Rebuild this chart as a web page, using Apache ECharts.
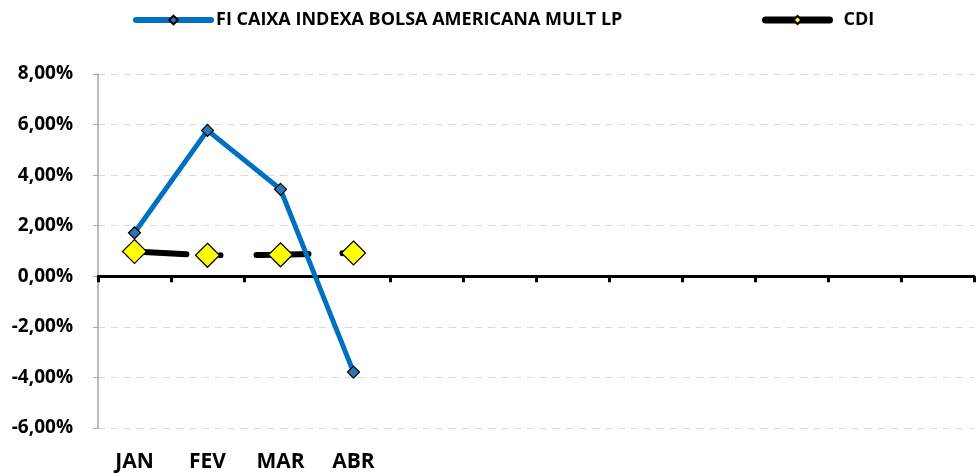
<!DOCTYPE html>
<html>
<head>
<meta charset="utf-8">
<script src="https://cdn.jsdelivr.net/npm/echarts@6/dist/echarts.min.js"></script>
<style>
  html, body { margin: 0; padding: 0; background: #fff; }
  #chart { width: 977px; height: 473px; }
</style>
</head>
<body>
<div id="chart"></div>
<script>
// meses (so os 4 primeiros tem rotulo)
var meses = ['JAN', 'FEV', 'MAR', 'ABR', '', '', '', '', '', '', '', ''];
var fundo = [1.72, 5.77, 3.44, -3.79];
var cdi = [0.98, 0.83, 0.85, 0.92];
var nomeFundo = 'FI CAIXA INDEXA BOLSA AMERICANA MULT LP';
var nomeCdi = 'CDI';

var fonte = '"Open Sans", sans-serif';

var chart = echarts.init(document.getElementById('chart'));

var option = {
    backgroundColor: '#fff',
    animation: false,
    legend: [{
        left: 133,
        top: 11,
        padding: 0,
        itemWidth: 75,
        itemHeight: 11,
        data: [{
            name: nomeFundo,
            lineStyle: { width: 6, cap: 'round' }
        }],
        textStyle: { fontFamily: fonte, fontWeight: 'bold', fontSize: 18, color: '#000' }
    }, {
        left: 762,
        top: 11,
        padding: 0,
        itemWidth: 64,
        itemHeight: 10,
        data: [{
            name: nomeCdi,
            lineStyle: { type: 'solid', width: 7, cap: 'round' }
        }],
        textStyle: { fontFamily: fonte, fontWeight: 'bold', fontSize: 18, color: '#000', padding: [0, 0, 0, 9] }
    }],
    grid: { left: 98, right: 3, top: 74, bottom: 44, containLabel: false },
    xAxis: [{
        type: 'category',
        data: meses,
        boundaryGap: true,
        axisLine: { onZero: true, lineStyle: { color: '#000', width: 3 } },
        axisTick: { show: true, inside: false, length: 6, lineStyle: { color: '#000', width: 3 } },
        axisLabel: { show: false },
        splitLine: { show: false }
    }, {
        type: 'category',
        data: meses,
        position: 'bottom',
        boundaryGap: true,
        axisLine: { show: false },
        axisTick: { show: false },
        axisLabel: {
            interval: 0,
            margin: 24,
            fontFamily: fonte, fontWeight: 'bold', fontSize: 21, color: '#000'
        },
        splitLine: { show: false }
    }],
    yAxis: {
        type: 'value',
        min: -6,
        max: 8,
        interval: 2,
        axisLine: { show: true, lineStyle: { color: '#a6a6a6', width: 1.5 } },
        axisTick: { show: true, inside: false, length: 5, lineStyle: { color: '#a6a6a6' } },
        axisLabel: {
            margin: 25,
            fontFamily: fonte, fontWeight: 'bold', fontSize: 19, color: '#000',
            formatter: function (v) { return v.toFixed(2).replace('.', ',') + '%'; }
        },
        splitLine: { show: true, lineStyle: { color: '#d9d9d9', type: [7, 6], width: 1 } }
    },
    series: [{
        name: nomeCdi,
        type: 'line',
        data: cdi,
        symbol: 'diamond',
        symbolSize: 24,
        itemStyle: { color: '#ffff00', borderColor: '#000', borderWidth: 1.2 },
        lineStyle: { color: '#000', width: 6, type: [52, 34, 0.1, 36], cap: 'round' },
        z: 2
    }, {
        name: nomeFundo,
        type: 'line',
        data: fundo,
        symbol: 'diamond',
        symbolSize: 12,
        itemStyle: { color: '#2e75b6', borderColor: '#000', borderWidth: 1.2 },
        lineStyle: { color: '#0070c0', width: 5 },
        z: 3
    }]
};

chart.setOption(option);
</script>
</body>
</html>
